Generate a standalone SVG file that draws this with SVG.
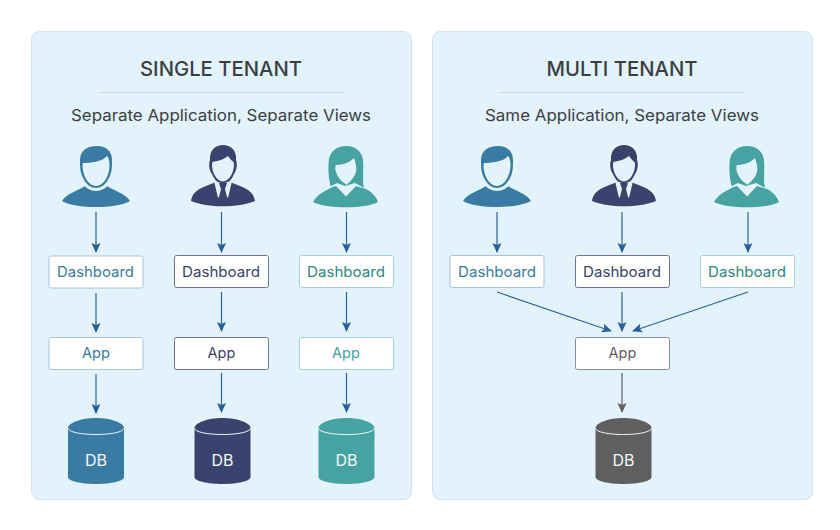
<svg xmlns="http://www.w3.org/2000/svg" width="840" height="530" viewBox="0 0 840 530">
<style>
text{font-family:"Inter","Open Sans","Liberation Sans",sans-serif;text-anchor:middle}
.panel{fill:#e2f3fd;stroke:#d3e3ee;stroke-width:1}
.rule{stroke:#c9d9e4;stroke-width:1}
.title{font-size:20.500px;font-weight:500;fill:#3b3f42}
.sub{font-size:16px;fill:#3b3f42}
.box{fill:#fff;stroke-width:1}
.lbl{font-size:14.500px}
.dbl{font-size:16px;fill:#f4f8fa}
.blue{color:#3a7ba3}.navy{color:#39436e}.teal{color:#47a2a2}.grey{color:#5f5f5f}
.conn line{stroke:#2f609f;stroke-width:1.200;marker-end:url(#ah)}
.conn line.g{stroke:#5f5f5f;marker-end:url(#ag)}
.cap{fill:none;stroke:#f2f7fa;stroke-width:1}
</style>
<defs>
<marker id="ah" viewBox="0 0 10 10" refX="9" refY="5" markerWidth="10" markerHeight="10" markerUnits="userSpaceOnUse" orient="auto"><path d="M0 0.500L10 5L0 9.500L2 5Z" fill="#2a5f9e"/></marker>
<marker id="ag" viewBox="0 0 10 10" refX="9" refY="5" markerWidth="10" markerHeight="10" markerUnits="userSpaceOnUse" orient="auto"><path d="M0 0.500L10 5L0 9.500L2 5Z" fill="#5f5f5f"/></marker>
<symbol id="man" overflow="visible" width="1" height="1">
<path fill="currentColor" d="M-34 201C-29 193-18 191-11 186C-5 191 5 191 11 186C18 191 29 193 34 201C20 209-20 209-34 201Z"/>
<path fill="none" stroke="#e2f3fd" stroke-width="2" d="M-12 184C-6 192 6 192 12 184"/>
<path fill="currentColor" d="M-14 176C-16 170-16 167-16 160C-16 150-8 146 1 146C10 146 16 151 16 160C16 167 16 170 14 176C10 185 5 188 0 188C-5 188-10 185-14 176Z"/>
<path fill="#e2f3fd" d="M-13 163C-6 163 6 162 11 156C13 158 13.500 162 13.500 166C13 177 7 186 0 186C-7 186-13 177-13.500 166Z"/>
</symbol>
<symbol id="suit" overflow="visible" width="1" height="1">
<path fill="currentColor" d="M-32 201C-31 193-25 189-17 186L-7 182L-2 190H2L7 182L17 186C25 189 31 193 32 201C15 208-15 208-32 201Z"/>
<path fill="#e2f3fd" d="M-9 181L-2 185H2L9 181L5 198L0 192L-5 198Z"/>
<path fill="currentColor" d="M-4 183H4L2 189L4 197L0 201L-4 197L-2 189Z"/>
<path fill="currentColor" d="M-11 174C-14 170-14.500 164-13 160C-14 150-7 145 0 145C7 145 14 150 13 160C14.500 164 14 170 11 174C8 181 5 183 0 183C-5 183-8 181-11 174Z"/>
<path fill="#e2f3fd" d="M-10.500 162C-6 161 0 160 5 156C7 159 9 161 10.500 162C12.500 168 8 181 0 181.500C-8 181-12.500 168-10.500 162Z"/>
</symbol>
<symbol id="woman" overflow="visible" width="1" height="1">
<path fill="currentColor" d="M-33 202C-29 195-22 191-15 188C-18 176-18 166-17 159C-15 150-8 146 0 146C10 146 16 152 17 160C18 170 16 180 18 188C25 191 30 196 32 202C20 209-20 209-33 202Z"/>
<path fill="#e2f3fd" d="M-10 165C-4 165 3 163 8 158C10 164 11 168 10 172C8 178 4 182 1 184L1 185C-4 182-8 178-10 172C-11 169-11 167-10 165Z"/>
<path fill="#e2f3fd" d="M-22 189.500L-9 183L-1 186L9 183L21 189.500L10 186L0 196.500L-10 186Z"/>
</symbol>
<symbol id="db" overflow="visible" width="1" height="1">
<path fill="currentColor" d="M-28 428C-28 423-15 418 0 418C15 418 28 423 28 428V477C28 481 15 484 0 484C-15 484-28 481-28 477Z"/>
<path class="cap" d="M-28 428C-28 432-15 434.500 0 434.500C15 434.500 28 432 28 428"/>
</symbol>
</defs>
<rect class="panel" x="31.500" y="31.500" width="380" height="468" rx="8"/>
<rect class="panel" x="432.500" y="31.500" width="380" height="468" rx="8"/>
<g id="header-single">
<text class="title" x="221" y="76" textLength="162" lengthAdjust="spacingAndGlyphs">SINGLE TENANT</text>
<line class="rule" x1="99" y1="92.500" x2="343" y2="92.500"/>
<text class="sub" x="221" y="121" textLength="300" lengthAdjust="spacingAndGlyphs">Separate Application, Separate Views</text>
</g>
<g id="header-multi">
<text class="title" x="622" y="76" textLength="151" lengthAdjust="spacingAndGlyphs">MULTI TENANT</text>
<line class="rule" x1="500" y1="92.500" x2="744" y2="92.500"/>
<text class="sub" x="622" y="121" textLength="274" lengthAdjust="spacingAndGlyphs">Same Application, Separate Views</text>
</g>
<g class="conn" id="connectors">
<line x1="96" y1="212" x2="96" y2="252"/><line x1="221.500" y1="212" x2="221.500" y2="252"/><line x1="346.500" y1="212" x2="346.500" y2="252"/>
<line x1="96" y1="293" x2="96" y2="332"/><line x1="221.500" y1="292" x2="221.500" y2="331"/><line x1="346.500" y1="292" x2="346.500" y2="331"/>
<line x1="96" y1="374" x2="96" y2="413"/><line x1="221.500" y1="373" x2="221.500" y2="412"/><line x1="346.500" y1="373" x2="346.500" y2="412"/>
<line x1="497" y1="212" x2="497" y2="252"/><line x1="622" y1="212" x2="622" y2="252"/><line x1="748" y1="212" x2="748" y2="252"/>
<line x1="497" y1="292" x2="611" y2="331"/><line x1="622" y1="292" x2="622" y2="331"/><line x1="748" y1="292" x2="633" y2="331"/>
<line class="g" x1="622" y1="373" x2="622" y2="412"/>
</g>
<g id="user-s1" class="blue"><use href="#man" x="96"/></g>
<g id="user-s2" class="navy"><use href="#suit" x="223"/></g>
<g id="user-s3" class="teal"><use href="#woman" x="346"/></g>
<g id="user-m1" class="blue"><use href="#man" x="497"/></g>
<g id="user-m2" class="navy"><use href="#suit" x="624"/></g>
<g id="user-m3" class="teal"><use href="#woman" x="747"/></g>
<g id="dash-s1"><rect class="box" x="49" y="256" width="94" height="32" rx="2" stroke="#a9c3d8"/><text class="lbl" x="95.500" y="277" fill="#3a7ba3" textLength="77" lengthAdjust="spacingAndGlyphs">Dashboard</text></g>
<g id="dash-s2"><rect class="box" x="174.500" y="255.500" width="94" height="32" rx="2" stroke="#6f7396"/><text class="lbl" x="221" y="277" fill="#39436e" textLength="78" lengthAdjust="spacingAndGlyphs">Dashboard</text></g>
<g id="dash-s3"><rect class="box" x="299.500" y="255.500" width="94" height="32" rx="2" stroke="#a8d0d6"/><text class="lbl" x="346" y="277" fill="#2a8a80" textLength="78" lengthAdjust="spacingAndGlyphs">Dashboard</text></g>
<g id="app-s1"><rect class="box" x="49" y="337.500" width="94" height="32" rx="2" stroke="#a9c3d8"/><text class="lbl" x="96" y="358" fill="#3a7ba3">App</text></g>
<g id="app-s2"><rect class="box" x="174.500" y="337.500" width="94" height="32" rx="2" stroke="#6f7396"/><text class="lbl" x="221.500" y="358" fill="#39436e">App</text></g>
<g id="app-s3"><rect class="box" x="299.500" y="337.500" width="94" height="32" rx="2" stroke="#a8d0d6"/><text class="lbl" x="346" y="358" fill="#47a2a2">App</text></g>
<g id="db-s1" class="blue"><use href="#db" x="96"/><text class="dbl" x="96" y="465.500">DB</text></g>
<g id="db-s2" class="navy"><use href="#db" x="222.500"/><text class="dbl" x="222.500" y="465.500">DB</text></g>
<g id="db-s3" class="teal"><use href="#db" x="346.500"/><text class="dbl" x="346.500" y="465.500">DB</text></g>
<g id="dash-m1"><rect class="box" x="450" y="255.500" width="94" height="32" rx="2" stroke="#a9c3d8"/><text class="lbl" x="497" y="277" fill="#3a7ba3" textLength="78" lengthAdjust="spacingAndGlyphs">Dashboard</text></g>
<g id="dash-m2"><rect class="box" x="575.500" y="255.500" width="94" height="32" rx="2" stroke="#6f7396"/><text class="lbl" x="622" y="277" fill="#39436e" textLength="78" lengthAdjust="spacingAndGlyphs">Dashboard</text></g>
<g id="dash-m3"><rect class="box" x="700.500" y="255.500" width="94" height="32" rx="2" stroke="#a8d0d6"/><text class="lbl" x="747" y="277" fill="#2a8a80" textLength="78" lengthAdjust="spacingAndGlyphs">Dashboard</text></g>
<g id="app-m"><rect class="box" x="575.500" y="337.500" width="94" height="32" rx="2" stroke="#8a8f94"/><text class="lbl" x="622.500" y="358" fill="#5f5f5f">App</text></g>
<g id="db-m" class="grey"><use href="#db" x="623.500"/><text class="dbl" x="623.500" y="465.500">DB</text></g>
</svg>
